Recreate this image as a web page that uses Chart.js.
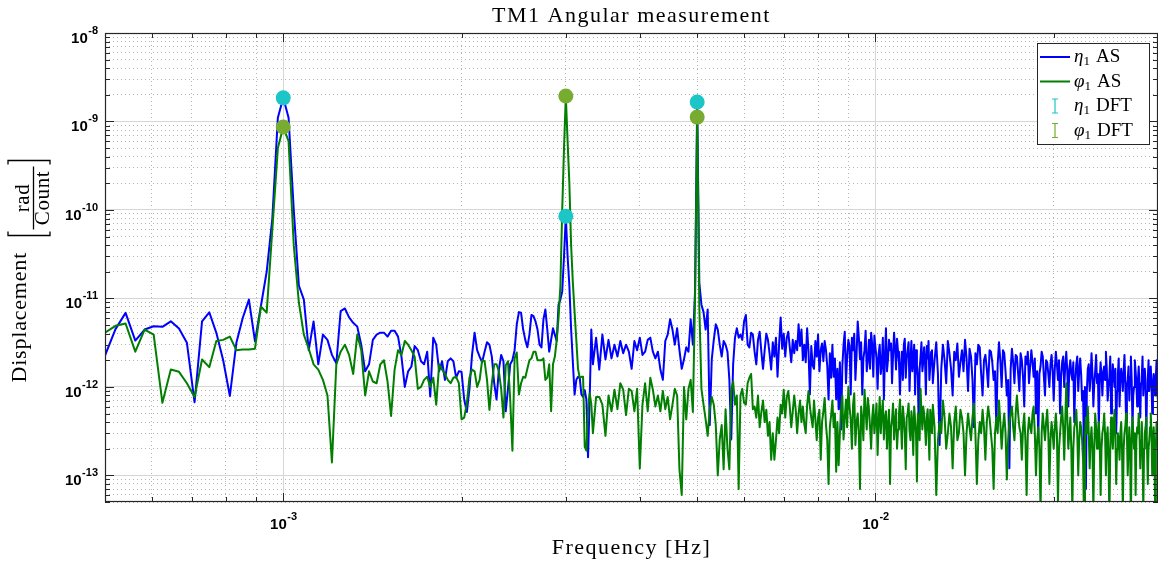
<!DOCTYPE html>
<html>
<head>
<meta charset="utf-8">
<script src="https://cdn.jsdelivr.net/npm/chart.js@4.4.1/dist/chart.umd.min.js"></script>
<style>
  html, body { margin: 0; padding: 0; background: #fff; }
  #wrap { width: 1158px; height: 566px; }
</style>
</head>
<body>
<div id="wrap"><canvas id="tm1" width="1158" height="566"></canvas></div>
<script>
// frequency resolution of the spectra (T = 48000 s)
const df = 1 / 48000;

// spectra are stored in blocks of frequency bins: first bin and bin step of each block
const segStartBin = [24, 162, 302, 604];
const segStepBin = [1, 2, 2, 4];

// amplitude spectra, in units of 1e-12 rad/Count
const etaAS_A = [2.26, 4.5, 6.86, 3.34, 4.45, 4.84, 4.77, 5.51, 4.56, 3.15, 0.67, 5.51, 6.97, 4.08, 2.0, 0.79, 3.15, 6.0, 9.7, 3.28, 8.15, 20, 80, 1100, 1850,
  1100, 100, 14, 9.7, 2.6, 5.5, 1.8, 3.9, 3.4, 2.3, 1.85, 7.2, 7.7, 6.1, 5.3, 4.8, 3.0, 1.5, 1.8, 3.4, 3.9, 4.1, 4.1, 3.7, 4.3,
  4.3, 3.7, 2.2, 1.0, 1.5, 1.7, 2.9, 2.6, 1.95, 1.8, 2.5, 0.78, 3.6, 3.0, 1.5, 1.95, 1.2, 1.95, 2.1, 1.95, 1.27, 1.5, 1.48, 0.72, 0.52,
  0.95, 2.3, 4.1, 2.6, 2.2, 1.9, 2.5, 3.2, 3.0, 2.2, 1.1, 0.72, 1.57, 2.3, 1.95, 0.53, 0.95, 1.8, 2.0, 2.6, 5.1, 7.0, 6.9, 4.45, 3.4,
  2.8, 3.9, 6.5, 6.3, 5.5, 4.45, 3.0, 2.8, 5.8, 7.5, 4.45, 2.5, 3.4, 4.6, 3.9, 3.3, 8.5, 9.7, 12, 30, 85, 30, 14, 4.5, 1.9,
  0.82, 1.2, 1.3, 1.27, 0.82, 0.77, 0.92, 0.72, 0.16, 0.72, 4.45, 1.8];
const etaAS_B = [3.6, 1.57, 3.9, 2.05, 3.4, 2.1, 3.0, 2.2, 3.3, 2.4, 3.0, 2.5, 1.6, 3.3, 2.6, 3.6, 2.3, 2.5, 3.4, 3.6, 2.5, 2.1, 2.5, 1.57, 1.2,
  3.3, 3.9, 5.8, 4.45, 3.0, 4.6, 2.6, 1.6, 2.05, 2.8, 2.5, 5.8, 3.0, 12, 1660, 15, 8.5, 7.0, 4.45, 7.5, 0.37, 2.05, 3.4, 5.1, 4.45,
  3.0, 2.2, 3.3, 3.0, 2.5, 1.2, 0.255, 1.8, 3.6, 4.6, 3.6, 3.9, 3.4, 5.5, 6.5, 3.0, 2.8, 4.1, 3.9, 2.5];
const etaAS_C = [1.8, 3.4, 4.2, 2.5, 1.6, 2.6, 4.0, 3.4, 2.4, 1.57, 3.2, 2.2, 3.6, 1.3, 3.0, 6.1, 2.7, 4.0, 2.2, 3.6,
  4.2, 2.8, 1.9, 3.4, 2.4, 3.3, 2.6, 5.1, 2.9, 4.45, 2.0, 3.0, 1.9, 4.6, 2.5, 0.82, 2.9, 1.75, 1.6, 3.3,
  2.2, 3.9, 1.5, 2.6, 3.1, 1.95, 3.3, 2.6, 1.7, 0.72, 2.4, 1.27, 3.0, 1.3, 2.1, 0.72, 1.6, 0.56, 1.9, 0.33,
  1.7, 3.0, 4.2, 1.1, 2.2, 3.4, 2.9, 0.82, 3.6, 2.6, 4.0, 1.2, 2.3, 5.5, 3.6, 2.05, 3.2, 0.82, 2.1, 2.6,
  4.3, 1.5, 2.0, 3.4, 1.6, 4.1, 3.0, 1.3, 3.8, 2.8, 2.1, 0.95, 2.4, 3.0, 1.4, 1.8, 3.6, 0.72, 2.2, 4.6,
  1.5, 2.05, 3.4, 2.6, 3.1, 1.1, 2.3, 4.1, 2.7, 1.57, 3.5, 2.5, 1.9, 0.82, 1.8, 2.5, 1.2, 3.0, 3.5, 1.27,
  2.1, 2.6, 3.2, 0.9, 2.0, 3.3, 1.5, 2.05, 3.0, 0.82, 2.6, 1.8, 1.3, 0.33, 1.6, 2.2, 3.2, 1.5, 1.9, 2.8,
  2.0, 0.82, 2.9, 2.1, 3.3, 1.2, 1.7, 2.5, 2.6, 1.1];
const etaAS_D = [2.0, 3.2, 1.4, 0.22, 1.6, 3.0, 2.0, 1.1, 3.3, 2.4, 1.6, 0.8, 2.5, 2.0, 3.1, 1.3, 1.9, 2.6, 1.5, 3.4,
  2.1, 0.9, 2.7, 2.2, 1.2, 0.35, 2.4, 1.8, 3.0, 2.8, 1.4, 0.8, 2.0, 2.3, 1.6, 1.0, 2.6, 2.5, 1.9, 1.2,
  1.5, 0.35, 1.8, 3.2, 2.0, 1.0, 2.6, 2.4, 1.5, 0.8, 1.2, 0.12, 1.6, 2.7, 1.9, 1.1, 2.3, 2.2, 1.4, 0.9,
  2.4, 2.0, 1.3, 0.6, 2.2, 1.8, 2.5, 1.1, 1.7, 2.6, 1.9, 1.3, 2.1, 0.5, 1.5, 0.25, 1.4, 1.7, 2.5, 2.2,
  1.3, 0.8, 2.0, 1.9, 1.4, 1.0, 1.8, 2.3, 1.5, 0.7, 1.6, 2.5, 1.8, 1.2, 2.0, 0.5, 1.3, 1.9, 2.2, 1.0,
  1.7, 2.5, 1.5, 0.6, 1.6, 2.0, 1.4, 1.2, 1.9, 0.4, 1.2, 1.8, 2.2, 0.9, 1.5, 2.1, 1.4, 0.7, 0.9, 0.15,
  1.0, 0.07, 0.9, 1.6, 1.8, 0.9, 1.3, 2.4, 1.4, 0.6, 1.1, 1.5, 2.3, 1.1, 1.4, 0.35, 1.2, 1.9, 1.3, 0.8,
  1.5, 1.7, 1.2, 2.5, 1.6, 0.7, 1.0, 1.3, 2.2, 0.5, 1.1, 1.8, 1.3, 1.0, 1.6, 0.3, 0.9, 1.4, 2.1, 0.6,
  1.2, 1.6, 1.3, 0.9, 1.5, 2.3, 1.1, 0.4, 1.0, 1.2, 1.7, 0.7, 1.3, 2.2, 1.2, 0.35, 0.8, 1.0, 2.0, 1.5,
  1.1, 0.6, 1.2, 1.7, 1.0, 0.45, 1.1, 1.3, 2.2, 0.8, 1.2, 1.6, 1.1, 0.3, 0.9, 1.2, 2.0, 0.9, 1.3, 1.7,
  1.1, 0.5, 1.0, 1.4, 1.2, 0.8, 1.3, 2.0, 1.0, 0.7];

const phiAS_A = [4.1, 4.9, 5.2, 2.5, 4.45, 3.9, 0.66, 1.57, 1.48, 1.1, 0.77, 2.04, 1.67, 3.3, 3.4, 3.7, 2.6, 2.64, 2.64, 2.7, 8.1, 6.9, 60, 500, 867,
  600, 40, 9.0, 3.9, 2.7, 1.8, 1.57, 1.2, 0.8, 0.14, 1.8, 2.5, 3.0, 2.3, 1.4, 3.9, 2.6, 0.8, 1.5, 1.15, 1.1, 1.8, 2.0, 1.15, 0.47,
  1.57, 2.6, 2.3, 3.3, 3.0, 2.6, 2.2, 0.95, 1.0, 1.2, 1.3, 1.0, 1.27, 0.63, 1.8, 1.57, 1.4, 1.2, 1.1, 1.27, 1.3, 1.1, 0.43, 0.45, 0.65,
  1.27, 1.57, 1.5, 1.0, 1.2, 2.0, 1.95, 1.2, 0.55, 1.1, 1.8, 1.8, 1.5, 0.95, 0.45, 1.75, 1.95, 0.72, 0.19, 2.1, 2.45, 0.82, 1.1, 1.3, 1.27,
  1.6, 2.0, 2.1, 2.5, 2.5, 2.0, 2.0, 2.0, 2.1, 1.2, 1.27, 1.8, 0.53, 1.8, 2.2, 3.4, 6.1, 14, 100, 500, 1940, 600, 200, 40, 15,
  7, 3.4, 1.6, 1.27, 1.3, 1.3, 0.21, 0.19, 0.56, 0.85, 0.64, 0.3];
const phiAS_B = [0.77, 0.77, 0.63, 0.28, 0.8, 0.53, 0.93, 0.56, 1.1, 0.93, 0.48, 0.95, 0.9, 0.53, 0.95, 0.12, 0.63, 1.1, 0.53, 1.27, 0.93, 0.6, 0.8, 0.53, 0.9,
  0.56, 0.77, 0.43, 0.63, 0.95, 0.8, 0.117, 0.06, 1.0, 0.43, 0.95, 1.2, 0.52, 10, 1120, 8, 0.95, 0.63, 0.43, 0.28, 0.56, 0.77, 0.63, 0.37, 0.1,
  0.255, 0.37, 0.117, 0.56, 0.2, 0.117, 0.93, 1.15, 0.63, 0.8, 0.07, 0.8, 0.95, 0.66, 0.63, 1.1, 1.27, 1.4, 0.56, 0.6];
const phiAS_C = [0.45, 0.8, 0.35, 0.52, 0.7, 0.4, 0.55, 0.28, 0.4, 0.15, 0.3, 0.15, 0.25, 0.45, 0.3, 0.63, 0.5, 0.93, 0.45, 0.77,
  0.9, 0.6, 0.35, 0.53, 0.8, 0.56, 0.3, 0.5, 0.7, 0.4, 0.6, 0.38, 0.3, 0.62, 0.9, 0.6, 0.45, 0.35, 0.7, 0.43,
  0.25, 0.45, 0.55, 0.15, 0.4, 0.53, 0.75, 0.37, 0.25, 0.08, 0.35, 0.48, 0.7, 0.35, 0.5, 0.11, 0.4, 0.13, 0.3, 0.56,
  0.8, 0.255, 0.45, 0.72, 0.35, 1.0, 0.6, 0.43, 0.2, 0.63, 0.85, 0.22, 0.4, 0.5, 0.3, 0.07, 0.6, 0.43, 0.25, 0.93,
  0.55, 0.33, 0.75, 0.56, 0.35, 0.2, 0.45, 0.63, 0.3, 0.43, 0.65, 0.17, 0.4, 0.77, 0.3, 0.5, 0.7, 0.255, 0.45, 0.53,
  0.2, 0.37, 0.55, 0.08, 0.35, 0.43, 0.65, 0.255, 0.4, 0.56, 0.2, 0.33, 0.5, 0.72, 0.4, 0.2, 0.6, 0.45, 0.3, 0.117,
  0.45, 0.5, 0.65, 0.32, 0.25, 0.53, 0.4, 0.17, 0.6, 0.43, 0.3, 0.085, 0.5, 0.37, 0.25, 0.95, 0.5, 0.33, 0.6, 0.5,
  0.35, 0.22, 0.45, 0.56, 0.3, 0.15, 0.55, 0.43, 0.3, 0.63];
const phiAS_D = [0.35, 0.06, 0.25, 0.4, 0.3, 0.7, 0.45, 0.2, 0.3, 0.5, 0.35, 0.12, 0.4, 0.6, 0.25, 0.3, 0.55, 0.45, 0.3, 0.1,
  0.3, 0.5, 0.35, 0.25, 0.45, 0.65, 0.3, 0.08, 0.25, 0.4, 0.3, 0.55, 0.35, 0.15, 0.4, 0.6, 0.45, 0.3, 0.2, 0.07,
  0.3, 0.45, 0.3, 0.7, 0.4, 0.2, 0.35, 0.5, 0.3, 0.09, 0.25, 0.4, 0.5, 0.6, 0.35, 0.25, 0.5, 0.8, 0.5, 0.35,
  0.3, 0.15, 0.35, 0.5, 0.25, 0.06, 0.3, 0.45, 0.35, 0.3, 0.5, 0.6, 0.3, 0.1, 0.25, 0.35, 0.2, 0.04, 0.3, 0.5,
  0.35, 0.25, 0.4, 0.55, 0.3, 0.08, 0.25, 0.4, 0.3, 0.2, 0.35, 0.5, 0.3, 0.05, 0.2, 0.3, 0.45, 0.6, 0.35, 0.15,
  0.4, 1.1, 0.45, 0.2, 0.3, 0.45, 0.2, 0.04, 0.2, 0.35, 0.4, 0.55, 0.3, 0.1, 0.25, 0.4, 0.35, 0.25, 0.15, 0.03,
  0.25, 0.45, 0.3, 0.6, 0.3, 0.12, 0.25, 0.35, 0.2, 0.04, 0.2, 0.5, 0.35, 0.2, 0.3, 0.4, 0.25, 0.06, 0.2, 0.3,
  0.35, 0.5, 0.3, 0.1, 0.25, 0.35, 0.15, 0.03, 0.2, 0.45, 0.3, 0.2, 0.35, 0.55, 0.3, 0.08, 0.2, 0.3, 0.25, 0.15,
  0.3, 0.4, 0.2, 0.04, 0.2, 0.3, 0.35, 0.5, 0.3, 0.1, 0.2, 0.35, 0.2, 0.03, 0.25, 0.45, 0.3, 0.2, 0.3, 0.06,
  0.25, 0.35, 0.3, 0.5, 0.3, 0.12, 0.25, 0.4, 0.2, 0.04, 0.2, 0.3, 0.35, 0.45, 0.2, 0.08, 0.2, 0.25, 0.35, 0.5,
  0.3, 0.1, 0.25, 0.35, 0.2, 0.04, 0.2, 0.4, 0.3, 0.2];

// DFT estimates at the injected frequencies (1e-12 rad/Count)
const dftFreq = [1e-3, 3e-3, 5e-3];
const etaDFT = [1850, 85, 1660];
const phiDFT = [867, 1940, 1120];

// axis ranges and tick positions
const xMin = 5e-4, xMax = 3e-2;
const yMin = 5e-14, yMax = 1e-8;
const xTickVals = [5e-4, 6e-4, 7e-4, 8e-4, 9e-4, 1e-3, 2e-3, 3e-3, 4e-3, 5e-3, 6e-3, 7e-3, 8e-3, 9e-3, 1e-2, 2e-2, 3e-2];
const yTickVals = [];
for (let e = -14; e <= -8; e++) {
  for (let m = 1; m <= 9; m++) {
    const v = m * Math.pow(10, e);
    if (v >= yMin * 0.999 && v <= yMax * 1.001) yTickVals.push(v);
  }
}
const xDecadeLabels = [-3, -2];
const yDecadeLabels = [-13, -12, -11, -10, -9, -8];

const scale12 = 1e-12;

function buildPoints(segments) {
  const pts = [];
  segments.forEach((vals, s) => {
    vals.forEach((v, i) => {
      pts.push({ x: (segStartBin[s] + i * segStepBin[s]) * df, y: v * scale12 });
    });
  });
  return pts;
}

function isDecade(v) {
  const l = Math.log10(v);
  return Math.abs(l - Math.round(l)) < 1e-6;
}

const etaPoints = buildPoints([etaAS_A, etaAS_B, etaAS_C, etaAS_D]);
const phiPoints = buildPoints([phiAS_A, phiAS_B, phiAS_C, phiAS_D]);
const etaDftPoints = dftFreq.map((f, i) => ({ x: f, y: etaDFT[i] * scale12 }));
const phiDftPoints = dftFreq.map((f, i) => ({ x: f, y: phiDFT[i] * scale12 }));

const colEta = '#0000ff';
const colPhi = '#007f00';
const colEtaDft = '#1cc6c6';
const colPhiDft = '#77ac30';
const serif = '"Liberation Serif", "DejaVu Serif", serif';
const sans = '"Liberation Sans", Arial, sans-serif';

// frame with inward ticks (MATLAB style box)
const frameTicks = {
  id: 'frameTicks',
  afterDatasetsDraw(chart) {
    const { ctx, chartArea: a, scales: { x, y } } = chart;
    ctx.save();
    ctx.strokeStyle = '#262626';
    ctx.lineWidth = 1;
    ctx.beginPath();
    xTickVals.forEach(v => {
      const px = Math.round(x.getPixelForValue(v)) + 0.5;
      const len = isDecade(v) ? 9 : 5;
      ctx.moveTo(px, a.bottom); ctx.lineTo(px, a.bottom - len);
      ctx.moveTo(px, a.top); ctx.lineTo(px, a.top + len);
    });
    yTickVals.forEach(v => {
      const py = Math.round(y.getPixelForValue(v)) + 0.5;
      const len = isDecade(v) ? 9 : 5;
      ctx.moveTo(a.left, py); ctx.lineTo(a.left + len, py);
      ctx.moveTo(a.right, py); ctx.lineTo(a.right - len, py);
    });
    ctx.stroke();
    ctx.lineWidth = 1.2;
    ctx.strokeRect(a.left + 0.5, a.top + 0.5, a.right - a.left - 1, a.bottom - a.top - 1);
    ctx.restore();
  }
};

// texts: tick labels with superscripts, titles, legend
const textLayer = {
  id: 'textLayer',
  afterDraw(chart) {
    const { ctx, chartArea: a, scales: { x, y } } = chart;
    ctx.save();
    ctx.fillStyle = '#000';
    ctx.textBaseline = 'alphabetic';

    // y tick labels
    const baseFont = 'bold 15px ' + sans;
    const supFont = 'bold 11px ' + sans;
    yDecadeLabels.forEach(e => {
      const py = y.getPixelForValue(Math.pow(10, e));
      ctx.font = supFont;
      const sup = String(e);
      const ws = ctx.measureText(sup).width;
      ctx.textAlign = 'left';
      const right = a.left - 7;
      ctx.fillText(sup, right - ws, py + 1);
      ctx.font = baseFont;
      const wb = ctx.measureText('10').width;
      ctx.fillText('10', right - ws - wb - 0.5, py + 10);
    });

    // x tick labels
    xDecadeLabels.forEach(e => {
      const px = x.getPixelForValue(Math.pow(10, e));
      ctx.font = baseFont;
      const wb = ctx.measureText('10').width;
      ctx.font = supFont;
      const sup = String(e);
      const ws = ctx.measureText(sup).width;
      const left = px - (wb + ws) / 2;
      ctx.textAlign = 'left';
      ctx.font = baseFont;
      ctx.fillText('10', left, a.bottom + 27);
      ctx.font = supFont;
      ctx.fillText(sup, left + wb + 0.5, a.bottom + 18);
    });

    // title
    const cx = (a.left + a.right) / 2;
    ctx.textAlign = 'center';
    ctx.font = '22px ' + serif;
    ctx.letterSpacing = '1.5px';
    ctx.fillText('TM1 Angular measurement', cx, 22);

    // x axis title
    ctx.fillText('Frequency [Hz]', cx, 554);
    ctx.letterSpacing = '0px';

    // y axis title, rotated and centred on the axes
    const yc = (a.top + a.bottom) / 2;
    ctx.save();
    ctx.translate(0, yc);
    ctx.rotate(-Math.PI / 2);
    ctx.textAlign = 'left';
    ctx.font = '22px ' + serif;
    ctx.letterSpacing = '0.8px';
    ctx.fillText('Displacement', -115, 26);
    ctx.strokeStyle = '#000';
    ctx.lineWidth = 1.3;
    ctx.beginPath();
    // left bracket
    ctx.moveTo(36, 8); ctx.lineTo(32, 8); ctx.lineTo(32, 50); ctx.lineTo(36, 50);
    // right bracket
    ctx.moveTo(103, 8); ctx.lineTo(107, 8); ctx.lineTo(107, 50); ctx.lineTo(103, 50);
    // fraction bar
    ctx.moveTo(38, 33.5); ctx.lineTo(101, 33.5);
    ctx.stroke();
    ctx.textAlign = 'center';
    ctx.font = '21px ' + serif;
    ctx.letterSpacing = '0.6px';
    ctx.fillText('rad', 69.5, 29);
    ctx.fillText('Count', 69.5, 49);
    ctx.letterSpacing = '0px';
    ctx.restore();

    // legend
    const lx = a.right - 121, ly = a.top + 10, lw = 112, lh = 101;
    ctx.fillStyle = '#fff';
    ctx.fillRect(lx, ly, lw, lh);
    ctx.strokeStyle = '#262626';
    ctx.lineWidth = 1;
    ctx.strokeRect(lx + 0.5, ly + 0.5, lw, lh);
    const rows = [
      { sym: 'η', txt: 'AS', col: colEta, kind: 'line' },
      { sym: 'φ', txt: 'AS', col: colPhi, kind: 'line' },
      { sym: 'η', txt: 'DFT', col: colEtaDft, kind: 'bar' },
      { sym: 'φ', txt: 'DFT', col: colPhiDft, kind: 'bar' }
    ];
    rows.forEach((r, i) => {
      const ry = ly + 14 + i * 24.5;
      ctx.strokeStyle = r.col;
      if (r.kind === 'line') {
        ctx.lineWidth = 2;
        ctx.beginPath();
        ctx.moveTo(lx + 3, ry); ctx.lineTo(lx + 33, ry);
        ctx.stroke();
      } else {
        const bx = lx + 18;
        ctx.lineWidth = 1.2;
        ctx.beginPath();
        ctx.moveTo(bx, ry - 7); ctx.lineTo(bx, ry + 7);
        ctx.moveTo(bx - 3, ry - 7); ctx.lineTo(bx + 3, ry - 7);
        ctx.moveTo(bx - 3, ry + 7); ctx.lineTo(bx + 3, ry + 7);
        ctx.stroke();
      }
      ctx.fillStyle = '#000';
      ctx.textAlign = 'left';
      let tx = lx + 37;
      ctx.font = 'italic 19px ' + serif;
      ctx.fillText(r.sym, tx, ry + 5);
      tx += ctx.measureText(r.sym).width;
      ctx.font = '13px ' + serif;
      ctx.fillText('1', tx, ry + 8);
      tx += ctx.measureText('1').width + 6;
      ctx.font = '19px ' + serif;
      ctx.fillText(r.txt, tx, ry + 5);
    });
    ctx.restore();
  }
};

function gridColor(c) {
  if (!c.tick) return '#d0d0d0';
  return isDecade(c.tick.value) ? '#d6d6d6' : '#b4b4b4';
}
function gridDash(c) {
  if (!c.tick) return [];
  return isDecade(c.tick.value) ? [] : [1, 3];
}

new Chart(document.getElementById('tm1'), {
  type: 'line',
  data: {
    datasets: [
      { label: 'η1 AS', data: etaPoints, borderColor: colEta, borderWidth: 2, pointRadius: 0, borderJoinStyle: 'round', order: 4 },
      { label: 'φ1 AS', data: phiPoints, borderColor: colPhi, borderWidth: 2, pointRadius: 0, borderJoinStyle: 'round', order: 3 },
      { label: 'η1 DFT', data: etaDftPoints, showLine: false, pointRadius: 7.5, pointBackgroundColor: colEtaDft, pointBorderWidth: 0, order: 2 },
      { label: 'φ1 DFT', data: phiDftPoints, showLine: false, pointRadius: 7.5, pointBackgroundColor: colPhiDft, pointBorderWidth: 0, order: 1 }
    ]
  },
  options: {
    responsive: false,
    animation: false,
    devicePixelRatio: 1,
    layout: { autoPadding: false, padding: { left: 105, top: 33, right: -3, bottom: 64 } },
    scales: {
      x: {
        type: 'logarithmic', min: xMin, max: xMax,
        ticks: { display: false },
        grid: { color: gridColor, lineWidth: 1, drawTicks: false },
        border: { display: false, dash: gridDash },
        afterBuildTicks: axis => { axis.ticks = xTickVals.map(v => ({ value: v })); }
      },
      y: {
        type: 'logarithmic', min: yMin, max: yMax,
        ticks: { display: false },
        grid: { color: gridColor, lineWidth: 1, drawTicks: false },
        border: { display: false, dash: gridDash },
        afterBuildTicks: axis => { axis.ticks = yTickVals.map(v => ({ value: v })); }
      }
    },
    plugins: {
      legend: { display: false },
      tooltip: { enabled: false },
      title: { display: false }
    }
  },
  plugins: [frameTicks, textLayer]
});
</script>
</body>
</html>
